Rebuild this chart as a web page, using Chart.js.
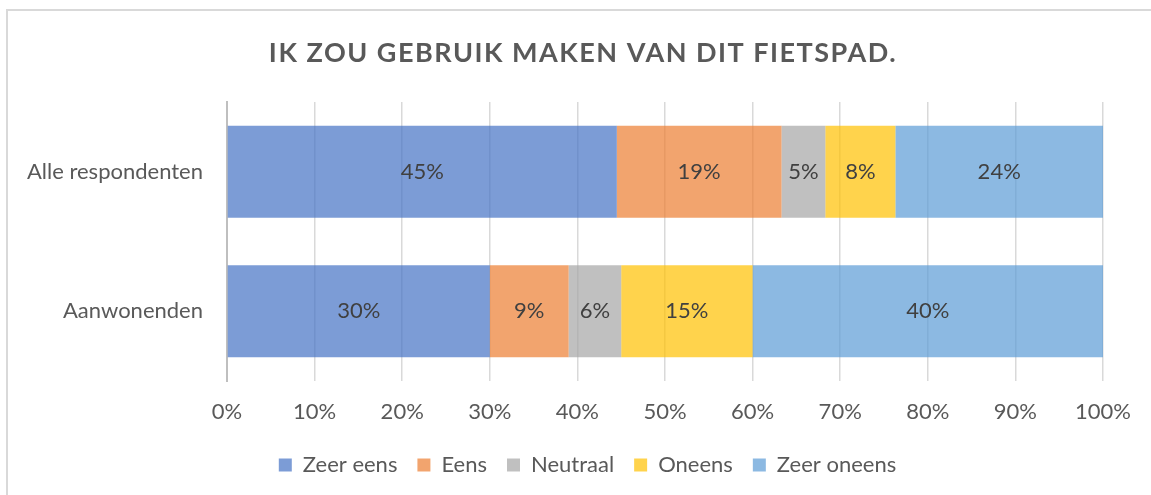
<!DOCTYPE html>
<html lang="nl">
  <head>
    <meta charset="UTF-8" />
    <title>Ik zou gebruik maken van dit fietspad.</title>
    <script src="https://cdn.jsdelivr.net/npm/chart.js@4.4.1/dist/chart.umd.min.js"></script>
    <style>
      html, body { margin: 0; padding: 0; background: #fff; overflow: hidden; }
      #wrap { position: relative; width: 1151px; height: 495px; }
      #frame {
        position: absolute; left: 6px; top: 9px; width: 1200px; height: 520px;
        border-left: 2px solid #d9d9d9; border-top: 2px solid #d9d9d9;
        pointer-events: none;
      }
    </style>
  </head>
  <body>
    <div id="wrap">
      <canvas id="chart"></canvas>
      <div id="frame"></div>
    </div>

    <script>
      const categories = ['Alle respondenten', 'Aanwonenden'];
      const seriesNames = ['Zeer eens', 'Eens', 'Neutraal', 'Oneens', 'Zeer oneens'];
      const zeerEens = [44.5, 30.0];
      const eens = [18.8, 9.0];
      const neutraal = [5.0, 6.0];
      const oneens = [8.0, 15.0];
      const zeerOneens = [23.7, 40.0];
      const xTicks = [0, 10, 20, 30, 40, 50, 60, 70, 80, 90, 100];
      const titleText = 'IK ZOU GEBRUIK MAKEN VAN DIT FIETSPAD.';

      const colors = [
        'rgba(68, 114, 196, 0.7)',
        'rgba(237, 125, 49, 0.7)',
        'rgba(165, 165, 165, 0.7)',
        'rgba(255, 192, 0, 0.7)',
        'rgba(91, 155, 213, 0.7)'
      ];
      const values = [zeerEens, eens, neutraal, oneens, zeerOneens];

      const fontFamily = 'Lato, "Noto Sans", sans-serif';

      // labels in the middle of each segment
      const segmentLabels = {
        id: 'segmentLabels',
        afterDatasetsDraw(chart) {
          const ctx = chart.ctx;
          ctx.save();
          ctx.font = '22px ' + fontFamily;
          ctx.fillStyle = '#404040';
          ctx.textAlign = 'center';
          ctx.textBaseline = 'middle';
          chart.data.datasets.forEach((ds, i) => {
            chart.getDatasetMeta(i).data.forEach((bar, j) => {
              const cx = (bar.x + bar.base) / 2;
              ctx.fillText(Math.round(ds.data[j]) + '%', cx, bar.y);
            });
          });
          ctx.restore();
        }
      };

      // spaced-out title (built-in title has no letter spacing)
      const spacedTitle = {
        id: 'spacedTitle',
        afterDraw(chart) {
          const ctx = chart.ctx;
          ctx.save();
          ctx.font = 'bold 27px ' + fontFamily;
          ctx.letterSpacing = '1.5px';
          ctx.fillStyle = '#595959';
          ctx.textAlign = 'center';
          ctx.textBaseline = 'middle';
          ctx.fillText(titleText, 583, 53);
          ctx.restore();
        }
      };

      // legend is centred on the whole chart in the original, not on the plot box
      const legendShift = {
        id: 'legendShift',
        afterLayout(chart) {
          chart.legend.left += 36;
          chart.legend.right += 36;
        }
      };

      new Chart(document.getElementById('chart'), {
        type: 'bar',
        data: {
          labels: categories,
          datasets: seriesNames.map((name, i) => ({
            label: name,
            data: values[i],
            backgroundColor: colors[i],
            borderWidth: 0,
            barPercentage: 0.66,
            categoryPercentage: 1
          }))
        },
        options: {
          indexAxis: 'y',
          responsive: true,
          maintainAspectRatio: false,
          animation: false,
          layout: { padding: { left: 0, right: 48, top: 102, bottom: 9 } },
          scales: {
            x: {
              stacked: true,
              min: 0,
              max: 100,
              afterBuildTicks(scale) {
                scale.ticks = xTicks.map(v => ({ value: v }));
              },
              afterFit(scale) { scale.height = 53; },
              grid: { color: '#d9d9d9', lineWidth: 1.5, drawTicks: false },
              border: { display: false },
              ticks: {
                padding: 18,
                color: '#595959',
                font: { family: fontFamily, size: 22 },
                callback: v => v + '%'
              }
            },
            y: {
              stacked: true,
              afterFit(scale) { scale.width = 227; },
              grid: { display: false, drawTicks: false },
              border: { display: true, color: '#bfbfbf', width: 2 },
              ticks: {
                padding: 24,
                color: '#595959',
                font: { family: fontFamily, size: 22 }
              }
            }
          },
          plugins: {
            title: { display: false },
            legend: {
              position: 'bottom',
              labels: {
                boxWidth: 13,
                boxHeight: 13,
                padding: 20,
                color: '#595959',
                font: { family: fontFamily, size: 22 }
              }
            },
            tooltip: { enabled: false }
          }
        },
        plugins: [segmentLabels, spacedTitle, legendShift]
      });
    </script>
  </body>
</html>
